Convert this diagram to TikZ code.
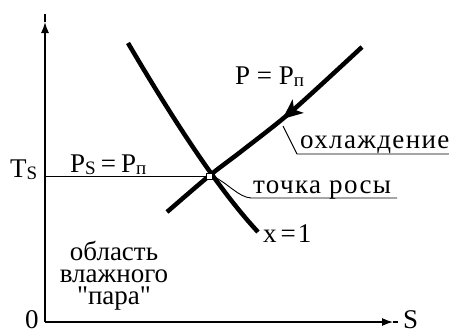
\documentclass[tikz,border=0pt]{standalone}
\usepackage{fontspec}
\usetikzlibrary{arrows.meta,decorations.markings}
\newfontfamily\lblfont{Liberation Serif}
\newfontfamily\lblwide[LetterSpace=5]{Liberation Serif}
\newcommand\sbs[1]{\raisebox{-2pt}{\fontsize{19}{19}\selectfont #1}}
\begin{document}
\begin{tikzpicture}[x=1pt,y=-1pt,
  lbl/.style={font=\lblfont\fontsize{27}{27}\selectfont, inner sep=0pt, anchor=base west},
  lblw/.style={lbl, font=\lblwide\fontsize{27}{27}\selectfont},
  lblblock/.style={font=\lblfont\fontsize{27}{22}\selectfont, inner sep=0pt, anchor=north, align=center},
  axisline/.style={line width=1.3pt},
  thinline/.style={line width=0.9pt},
  thickcurve/.style={line width=4.5pt},
  axtip/.style={-{Latex[length=11pt,width=8pt]}},
  dewbox/.style={draw, fill=white, line width=0.7pt, minimum size=6pt, inner sep=0pt}]
\useasboundingbox (0,0) rectangle (449,333);
% axes
\coordinate (O) at (45,322);
\coordinate (ytip) at (45,22);
\coordinate (yend) at (45,14);
\coordinate (xtip) at (393,322);
\coordinate (xend) at (398,322);
\draw[axisline,axtip] (O) -- (ytip);
\draw[axisline] (ytip) -- (yend);
\draw[axisline,axtip] (O) -- (xtip);
\draw[axisline] (xtip) -- (xend);
% Ts line
\coordinate (ts) at (45,176);
\coordinate (dpc) at (209,176);
\draw[thinline] (ts) -- (dpc);
% x = 1 curve
\coordinate (xa) at (128,43);
\coordinate (xb) at (258,232);
\draw[thickcurve] (xa) .. controls (168,111) and (216,187) .. (xb);
% P = Pп curve with arrow
\draw[thickcurve, postaction=decorate,
  decoration={markings, mark=at position 0.42 with {\arrow{Stealth[length=20pt,width=17pt,inset=5pt]}}}]
  plot[smooth] coordinates {(362,47) (292,111) (243,150) (209,176) (167,212)};
% dew point
\node[dewbox] (dp) at (dpc) {};
% leaders
\coordinate (cl) at (283,126);
\coordinate (cl2) at (297,154);
\coordinate (cl3) at (449,154);
\draw[thinline] (cl) -- (cl2) -- (cl3);
\coordinate (dl2) at (251,198);
\coordinate (dl3) at (397,198);
\draw[thinline] (dp.east) .. controls (228,183) and (238,197) .. (dl2) -- (dl3);
% labels
\node[lbl] (tsl) at (10,177) {T\sbs{S}};
\node[lbl] (zero) at (25,328) {0};
\node[lbl] (sl) at (403,328) {S};
\node[lbl] (pl) at (235,84) {P = P\sbs{п}};
\node[lbl] (psl) at (70,172) {P\sbs{S}\hspace{5pt}=\hspace{5pt}P\sbs{п}};
\node[lblw] (cool) at (300,148) {охлаждение};
\node[lblw] (dew) at (253,193) {точка росы};
\node[lbl] (x1) at (263,242) {x\hspace{4pt}=\hspace{2pt}1};
\node[lblblock] (wet) at (114,241) {область\\влажного\\"пара"};
\end{tikzpicture}
\end{document}
